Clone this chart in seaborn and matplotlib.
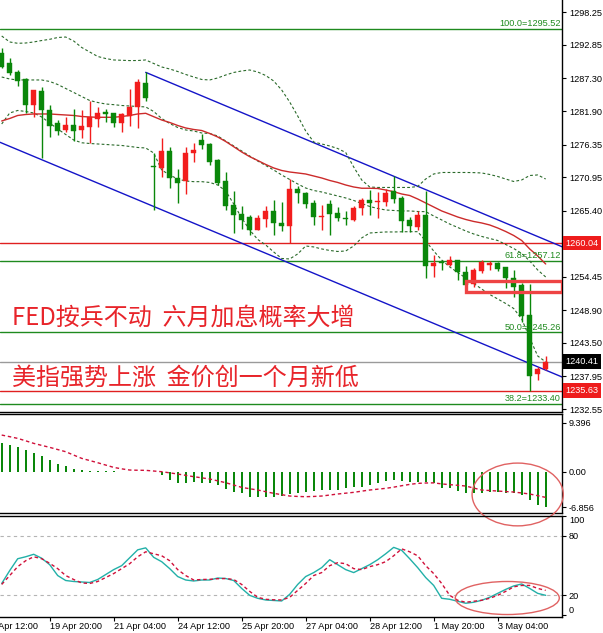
import numpy as np
import matplotlib
matplotlib.use("Agg")
import matplotlib.pyplot as plt
import matplotlib.transforms as mtransforms
from matplotlib.patches import Ellipse, Rectangle
import seaborn as sns

# ---------------- data (XAUUSD H4) ----------------
open_ = [1291.46, 1289.81, 1288.45, 1287.16, 1282.95, 1285.22, 1282.07, 1279.97, 1278.77, 1279.54,
         1278.77, 1279.31, 1280.53, 1281.75, 1281.53, 1279.87, 1281.05, 1282.52, 1286.49, 1272.86,
         1272.52, 1275.29, 1270.77, 1270.30, 1274.91, 1277.11, 1276.50, 1273.75, 1270.37, 1266.35,
         1264.86, 1264.41, 1262.21, 1263.95, 1265.38, 1263.37, 1262.82, 1269.00, 1268.28, 1266.62,
         1264.30, 1266.48, 1265.02, 1264.22, 1263.86, 1265.78, 1267.23, 1266.76, 1266.89, 1268.68,
         1267.53, 1263.87, 1262.70, 1264.69, 1256.25, 1256.88, 1256.42, 1257.18, 1255.31, 1253.20,
         1255.45, 1256.47, 1256.69, 1256.00, 1254.21, 1253.10, 1248.10, 1238.36, 1239.14]
high = [1292.29, 1290.63, 1288.70, 1287.32, 1285.39, 1285.93, 1282.90, 1280.42, 1280.97, 1282.19,
        1282.07, 1283.56, 1282.52, 1282.19, 1281.64, 1281.53, 1285.55, 1287.29, 1288.31, 1274.91,
        1277.39, 1276.00, 1272.26, 1275.90, 1276.66, 1278.10, 1276.56, 1274.00, 1271.75, 1268.70,
        1266.15, 1264.69, 1264.69, 1266.14, 1267.10, 1266.90, 1270.63, 1269.50, 1268.55, 1267.17,
        1266.30, 1267.17, 1266.07, 1265.30, 1266.20, 1267.53, 1268.80, 1268.46, 1268.97, 1271.22,
        1267.86, 1264.40, 1265.38, 1268.70, 1258.07, 1257.24, 1257.85, 1257.24, 1256.20, 1255.87,
        1257.24, 1257.10, 1256.87, 1256.14, 1255.53, 1253.38, 1253.20, 1239.57, 1241.40]
low = [1288.98, 1287.87, 1286.05, 1281.53, 1280.97, 1274.08, 1277.65, 1277.93, 1278.48, 1276.99,
       1277.39, 1276.56, 1279.21, 1280.14, 1279.31, 1278.48, 1279.50, 1279.04, 1283.60, 1265.52,
       1271.03, 1269.11, 1266.73, 1268.10, 1273.52, 1275.57, 1273.05, 1269.66, 1265.52, 1261.66,
       1262.35, 1261.30, 1262.21, 1262.78, 1261.43, 1262.00, 1260.10, 1266.62, 1265.80, 1263.03,
       1262.15, 1261.30, 1263.66, 1263.10, 1263.77, 1264.69, 1264.77, 1264.14, 1266.12, 1266.61,
       1261.93, 1261.85, 1262.20, 1254.21, 1254.38, 1255.59, 1256.20, 1253.93, 1252.55, 1252.82,
       1255.04, 1255.59, 1255.47, 1252.64, 1251.16, 1247.03, 1235.63, 1237.37, 1239.04]
close = [1289.24, 1288.25, 1286.95, 1282.90, 1285.39, 1282.07, 1279.42, 1278.60, 1279.54, 1278.60,
         1279.42, 1280.87, 1281.53, 1281.42, 1279.87, 1281.36, 1282.54, 1286.70, 1284.01, 1272.60,
         1275.29, 1270.77, 1269.94, 1274.95, 1275.45, 1276.33, 1273.40, 1270.00, 1266.21, 1264.75,
         1263.78, 1262.21, 1264.14, 1265.38, 1263.32, 1262.82, 1269.00, 1268.28, 1266.51, 1264.30,
         1264.55, 1264.83, 1264.22, 1263.97, 1265.85, 1267.23, 1266.73, 1267.04, 1268.38, 1267.37,
         1263.75, 1262.87, 1264.69, 1256.25, 1256.75, 1256.69, 1257.18, 1255.23, 1253.05, 1255.59,
         1256.96, 1256.69, 1255.70, 1254.21, 1252.82, 1248.00, 1238.10, 1239.14, 1240.41]

ma_red = [1280.26, 1280.67, 1281.17, 1281.33, 1281.42, 1281.42, 1281.42, 1281.33, 1281.25, 1281.17,
          1281.00, 1280.92, 1280.87, 1280.87, 1280.87, 1281.00, 1281.17, 1281.42, 1281.53, 1280.97,
          1280.42, 1280.01, 1279.51, 1279.10, 1278.85, 1278.68, 1278.19, 1277.61, 1276.86, 1276.00,
          1275.12, 1274.35, 1273.72, 1273.06, 1272.48, 1272.06, 1271.81, 1271.65, 1271.48, 1271.15,
          1270.82, 1270.41, 1270.08, 1269.66, 1269.33, 1269.12, 1269.12, 1269.08, 1268.83, 1268.55,
          1268.17, 1267.92, 1267.34, 1266.68, 1266.02, 1265.36, 1264.86, 1264.36, 1263.95, 1263.62,
          1263.37, 1263.04, 1262.54, 1261.96, 1261.30, 1260.47, 1259.07, 1257.91, 1256.58]
bb_upper = [1294.33, 1293.34, 1293.12, 1293.17, 1293.34, 1293.58, 1293.78, 1294.08, 1294.16, 1293.50,
            1292.43, 1291.68, 1290.94, 1290.60, 1290.36, 1290.31, 1290.26, 1290.27, 1290.36, 1289.78,
            1289.20, 1288.87, 1288.45, 1287.96, 1287.54, 1287.13, 1287.05, 1287.38, 1287.87, 1288.29,
            1288.54, 1288.70, 1288.37, 1287.79, 1286.88, 1285.39, 1283.40, 1281.09, 1278.60, 1276.78,
            1276.45, 1276.12, 1275.70, 1275.04, 1272.64, 1270.49, 1269.33, 1269.25, 1269.25, 1269.25,
            1269.25, 1269.25, 1269.41, 1270.65, 1271.48, 1271.73, 1271.73, 1271.73, 1271.73, 1271.71,
            1271.65, 1271.40, 1271.07, 1270.65, 1270.24, 1270.49, 1271.23, 1271.32, 1270.65]
bb_mid = [1287.54, 1287.21, 1287.05, 1287.05, 1287.05, 1287.05, 1286.80, 1286.30, 1285.64, 1284.98,
          1284.31, 1283.65, 1283.32, 1283.07, 1282.96, 1282.82, 1282.74, 1282.66, 1282.58, 1281.83,
          1280.67, 1279.84, 1279.18, 1278.77, 1278.60, 1278.27, 1278.19, 1277.77, 1276.95, 1276.12,
          1275.29, 1274.46, 1273.63, 1272.89, 1272.14, 1271.32, 1270.57, 1269.83, 1269.16, 1268.75,
          1268.50, 1268.17, 1267.84, 1267.51, 1267.10, 1266.60, 1266.10, 1265.77, 1265.52, 1265.44,
          1265.36, 1265.36, 1265.27, 1265.24, 1264.53, 1263.87, 1263.20, 1262.63, 1262.05, 1261.55,
          1261.14, 1260.80, 1260.47, 1259.81, 1259.15, 1258.32, 1257.08, 1255.59, 1254.43]
bb_lower = [1279.76, 1281.58, 1282.00, 1281.83, 1281.58, 1280.92, 1279.93, 1278.93, 1278.02, 1277.11,
            1276.65, 1276.53, 1276.45, 1276.37, 1276.28, 1276.20, 1276.04, 1275.87, 1275.79, 1274.96,
            1272.14, 1271.32, 1270.65, 1270.32, 1270.21, 1270.21, 1270.08, 1269.66, 1268.67, 1266.52,
            1264.20, 1262.21, 1260.64, 1259.73, 1258.57, 1257.49, 1257.41, 1258.24, 1259.56, 1259.40,
            1259.07, 1258.82, 1258.65, 1258.73, 1259.56, 1260.89, 1261.71, 1261.80, 1261.88, 1261.88,
            1261.91, 1261.93, 1261.93, 1260.39, 1258.73, 1257.24, 1256.09, 1255.18, 1254.26, 1253.35,
            1252.44, 1251.53, 1250.79, 1250.04, 1249.21, 1247.48, 1244.33, 1241.35, 1240.36]

macd_hist = [5.46, 5.14, 4.82, 4.17, 3.66, 3.02, 2.25, 1.48, 1.09, 0.45,
             0.26, 0.19, 0.13, 0.13, 0.06, 0.02, 0.01, 0.00, -0.05, -0.13,
             -0.64, -1.61, -2.12, -2.25, -1.93, -2.12, -2.12, -2.57, -3.34, -3.85,
             -4.17, -4.82, -4.95, -4.95, -4.95, -4.69, -4.30, -4.05, -3.85, -3.73,
             -3.53, -3.53, -3.53, -3.21, -2.89, -2.89, -2.57, -2.12, -1.73, -1.61,
             -1.87, -1.93, -1.93, -2.06, -2.25, -3.21, -3.21, -3.66, -4.05, -4.17,
             -4.05, -3.85, -3.85, -4.05, -4.05, -4.50, -5.46, -6.42, -6.86]
macd_signal = [7.06, 6.75, 6.42, 5.95, 5.46, 5.07, 4.69, 4.27, 3.85, 3.20,
               2.57, 2.15, 1.73, 1.28, 0.83, 0.55, 0.32, 0.28, 0.26, 0.13,
               0.00, -0.22, -0.45, -0.70, -0.96, -1.18, -1.41, -1.76, -2.12, -2.57,
               -3.02, -3.28, -3.53, -3.85, -4.17, -4.43, -4.69, -4.77, -4.82, -4.77,
               -4.69, -4.50, -4.30, -4.14, -3.98, -3.75, -3.53, -3.37, -3.21, -2.98,
               -2.70, -2.45, -2.25, -2.18, -2.15, -2.35, -2.50, -2.62, -2.76, -3.15,
               -3.53, -3.63, -3.73, -3.83, -3.92, -4.10, -4.30, -4.62, -4.95]

stoch_k = [32, 45, 57, 59, 61.5, 57.5, 51, 40, 35, 34,
           33.5, 33, 36, 41, 46, 50, 58, 66, 68, 58.4,
           54, 47, 39, 35.5, 34.5, 35.5, 35.5, 37.5, 37, 35,
           27, 20, 17, 15.3, 14.8, 14.3, 21, 31, 39, 43,
           48, 56, 51, 46, 43, 47, 51, 56, 62, 68.5,
           65.5, 57, 48, 38, 30, 17, 16, 14, 12, 13,
           15, 18, 22, 26, 29.5, 31.5, 27, 22, 20]
stoch_d = [31, 40, 49, 55, 59, 57, 52.4, 47, 40, 36,
           32.5, 32, 34, 38, 42, 47, 52, 59, 64, 62,
           60, 55, 46, 40, 35.5, 36, 36.2, 36.8, 37, 36,
           31, 24, 18, 16, 15.5, 15.3, 18, 25, 32, 40,
           43, 50, 53, 52, 47, 46, 49, 51, 54, 60,
           67, 64, 60, 50, 42, 32, 20, 15, 13, 14,
           15, 17, 20, 24, 28.6, 30, 30, 27, 25]

fib_levels = [1295.52, 1257.12, 1245.26, 1233.40]
fib_labels = ["100.0=1295.52", "61.8=1257.12", "50.0=1245.26", "38.2=1233.40"]
red_levels = [1260.04, 1235.63]
bid_level = 1240.41
zone_low, zone_high, zone_start = 1251.94, 1253.76, 58.0
chan_upper = [(18, 1288.31), (68, 1260.57)]
chan_lower = [(0, 1276.61), (68, 1239.00)]

price_ticks = [1298.25, 1292.85, 1287.30, 1281.90, 1276.35, 1270.95, 1265.40,
               1254.45, 1248.90, 1243.50, 1237.95, 1232.55]
macd_ticks = [9.396, 0.0, -6.856]
macd_tick_labels = ["9.396", "0.00", "-6.856"]
stoch_ticks = [100, 80, 20, 0]
time_tick_idx = [-2, 6, 14, 22, 30, 38, 46, 54, 62]
time_tick_labels = ["18 Apr 12:00", "19 Apr 20:00", "21 Apr 04:00", "24 Apr 12:00",
                    "25 Apr 20:00", "27 Apr 04:00", "28 Apr 12:00", "1 May 20:00", "3 May 04:00"]
headline1 = "FED按兵不动  六月加息概率大增"
headline2 = "美指强势上涨  金价创一个月新低"
# highlight ellipses: (centre x bar, centre value, width bars, height value)
macd_ellipse = (64.5, -4.39, 11.4, 12.1)
stoch_ellipse = (63.2, 17.3, 13.0, 33.4)

# ---------------- styling ----------------
sns.set_style("white")
plt.rcParams['font.family'] = ['Liberation Sans', 'Noto Sans CJK SC', 'DejaVu Sans']

C_UP = '#f21d1d'
C_DN = '#0a870a'
C_FIB = '#1f8a1f'
C_RED = '#e02020'
C_BLUE = '#1414c8'
C_BB = '#2a6a2a'
C_MA = '#cc2b2b'
C_SIG = '#d0103a'
FS = 6.6

W, H = 603, 633
fig = plt.figure(figsize=(W / 100, H / 100), dpi=100)
fig.patch.set_facecolor('white')
rx = 562 / W
ax1 = fig.add_axes([0, 1 - 412 / H, rx, 412 / H])
ax2 = fig.add_axes([0, 1 - 513 / H, rx, 99 / H])
ax3 = fig.add_axes([0, 1 - 617 / H, rx, 101 / H])
for ax in (ax1, ax2, ax3):
    ax.patch.set_facecolor('none')
    for s in ax.spines.values():
        s.set_color('black')
        s.set_linewidth(1.0)
    ax.spines['left'].set_visible(False)
ax1.spines['top'].set_visible(False)

XL = (-0.2125, 70.04)
idx = np.arange(len(close))
o, h, l, c = map(np.array, (open_, high, low, close))
cols = np.where(c >= o, C_UP, C_DN)

# ---------------- main price panel ----------------
for lv in fib_levels:
    ax1.axhline(lv, color=C_FIB, lw=1.0, zorder=1)
for lv in red_levels:
    ax1.axhline(lv, color=C_RED, lw=1.0, zorder=1)
ax1.axhline(bid_level, color='#9a9a9a', lw=1.0, zorder=1)

(x0, y0), (x1, y1) = chan_upper
slope_u = (y1 - y0) / (x1 - x0)
ax1.plot([x0, XL[1]], [y0, y0 + slope_u * (XL[1] - x0)], color=C_BLUE, lw=1.0, zorder=2)
(x0, y0), (x1, y1) = chan_lower
slope_l = (y1 - y0) / (x1 - x0)
ax1.plot([XL[0], XL[1]], [y0 + slope_l * (XL[0] - x0), y0 + slope_l * (XL[1] - x0)],
         color=C_BLUE, lw=1.0, zorder=2)

for series in (bb_upper, bb_mid, bb_lower):
    sns.lineplot(x=idx, y=series, ax=ax1, color=C_BB, lw=0.8, zorder=3)
    ax1.lines[-1].set_dashes((2.5, 2.0))
sns.lineplot(x=idx, y=ma_red, ax=ax1, color=C_MA, lw=1.0, zorder=3)

ax1.vlines(idx, l, h, colors=cols, lw=1.0, zorder=4)
body_b = np.minimum(o, c)
body_h = np.maximum(np.abs(c - o), 0.17)
ax1.bar(idx, body_h, bottom=body_b, width=0.62, color=cols, edgecolor=cols, lw=0.3, zorder=5)

ax1.add_patch(Rectangle((zone_start, zone_low), XL[1] - zone_start, zone_high - zone_low,
                        fill=False, ec='#ee4444', lw=2.4, zorder=6, clip_on=True))

btrans = mtransforms.blended_transform_factory(ax1.transAxes, ax1.transData)
for lv, lab in zip(fib_levels, fib_labels):
    ax1.text(0.998, lv + 0.12, lab, transform=btrans, ha='right', va='bottom',
             fontsize=FS, color=C_FIB, zorder=7)

ax1.text(0.0214, 0.2287, headline1, transform=ax1.transAxes, ha='left', va='center',
         fontsize=17.3, color='#e8242a', family=['Noto Sans CJK SC', 'DejaVu Sans'], zorder=8)
ax1.text(0.0214, 0.0827, headline2, transform=ax1.transAxes, ha='left', va='center',
         fontsize=17.3, color='#e8242a', family=['Noto Sans CJK SC', 'DejaVu Sans'], zorder=8)

rtrans = mtransforms.offset_copy(btrans, fig=fig, x=3.5 * 0.72, units='points')
for lv, fc in ((red_levels[0], '#ee1c1c'), (bid_level, 'black'), (red_levels[1], '#ee1c1c')):
    ax1.text(1.0, lv, f"{lv:.2f}", transform=rtrans, ha='left', va='center', fontsize=FS,
             color='white', clip_on=False, zorder=9,
             bbox=dict(boxstyle='square,pad=0.3', fc=fc, ec='none'))

ax1.set_xlim(*XL)
ax1.set_ylim(1232.07, 1300.29)
ax1.yaxis.tick_right()
ax1.set_yticks(price_ticks)
ax1.set_yticklabels([f"{v:.2f}" for v in price_ticks])
ax1.set_xticks([])

# ---------------- MACD panel ----------------
ax2.bar(idx, macd_hist, width=0.22, color=C_DN, lw=0, zorder=3)
sns.lineplot(x=idx, y=macd_signal, ax=ax2, color=C_SIG, lw=1.0, zorder=4)
ax2.lines[-1].set_dashes((2.5, 2.0))
cx, cy, ew, eh = macd_ellipse
ax2.add_patch(Ellipse((cx, cy), ew, eh, fill=False, ec='#e06262', lw=1.0, clip_on=False, zorder=10))
ax2.set_xlim(*XL)
ax2.set_ylim(-7.96, 11.12)
ax2.yaxis.tick_right()
ax2.set_yticks(macd_ticks)
ax2.set_yticklabels(macd_tick_labels)
ax2.set_xticks([])

# ---------------- Stochastic panel ----------------
for lv in (80, 20):
    ax3.axhline(lv, color='#b4b4b4', lw=0.8, dashes=(3, 3), zorder=1)
sns.lineplot(x=idx, y=stoch_k, ax=ax3, color='#22b0a8', lw=1.0, zorder=3)
sns.lineplot(x=idx, y=stoch_d, ax=ax3, color=C_SIG, lw=1.0, zorder=4)
ax3.lines[-1].set_dashes((2.5, 2.0))
cx, cy, ew, eh = stoch_ellipse
ax3.add_patch(Ellipse((cx, cy), ew, eh, fill=False, ec='#e06262', lw=1.0, clip_on=False, zorder=10))
ax3.set_xlim(*XL)
ax3.set_ylim(-1.9, 100.2)
ax3.yaxis.tick_right()
ax3.set_yticks(stoch_ticks)
ax3.set_yticklabels([str(v) for v in stoch_ticks])

vis = [(t, lab) for t, lab in zip(time_tick_idx, time_tick_labels)]
ax3.set_xticks([t for t, _ in vis if XL[0] <= t <= XL[1]])
ax3.set_xticklabels([])
xtrans = mtransforms.offset_copy(
    mtransforms.blended_transform_factory(ax3.transData, ax3.transAxes),
    fig=fig, y=-3.3, units='points')
for t, lab in vis:
    ax3.text(t, 0, lab, transform=xtrans, ha='left', va='top', fontsize=FS,
             color='black', clip_on=False)

for ax in (ax1, ax2, ax3):
    ax.set_xlabel('')
    ax.set_ylabel('')
    ax.tick_params(axis='y', which='both', right=True, left=False, labelright=True,
                   labelleft=False, length=3, width=0.8, pad=2, labelsize=FS, colors='black')
ax1.tick_params(axis='x', bottom=False)
ax2.tick_params(axis='x', bottom=False)
ax3.tick_params(axis='x', bottom=True, length=3, width=0.8, direction='out', colors='black')

for lbl, v in zip(ax3.get_yticklabels(), stoch_ticks):
    if v == 100:
        lbl.set_va('top')
    elif v == 0:
        lbl.set_va('bottom')

fig.savefig("out.png", dpi=100, facecolor='white')
